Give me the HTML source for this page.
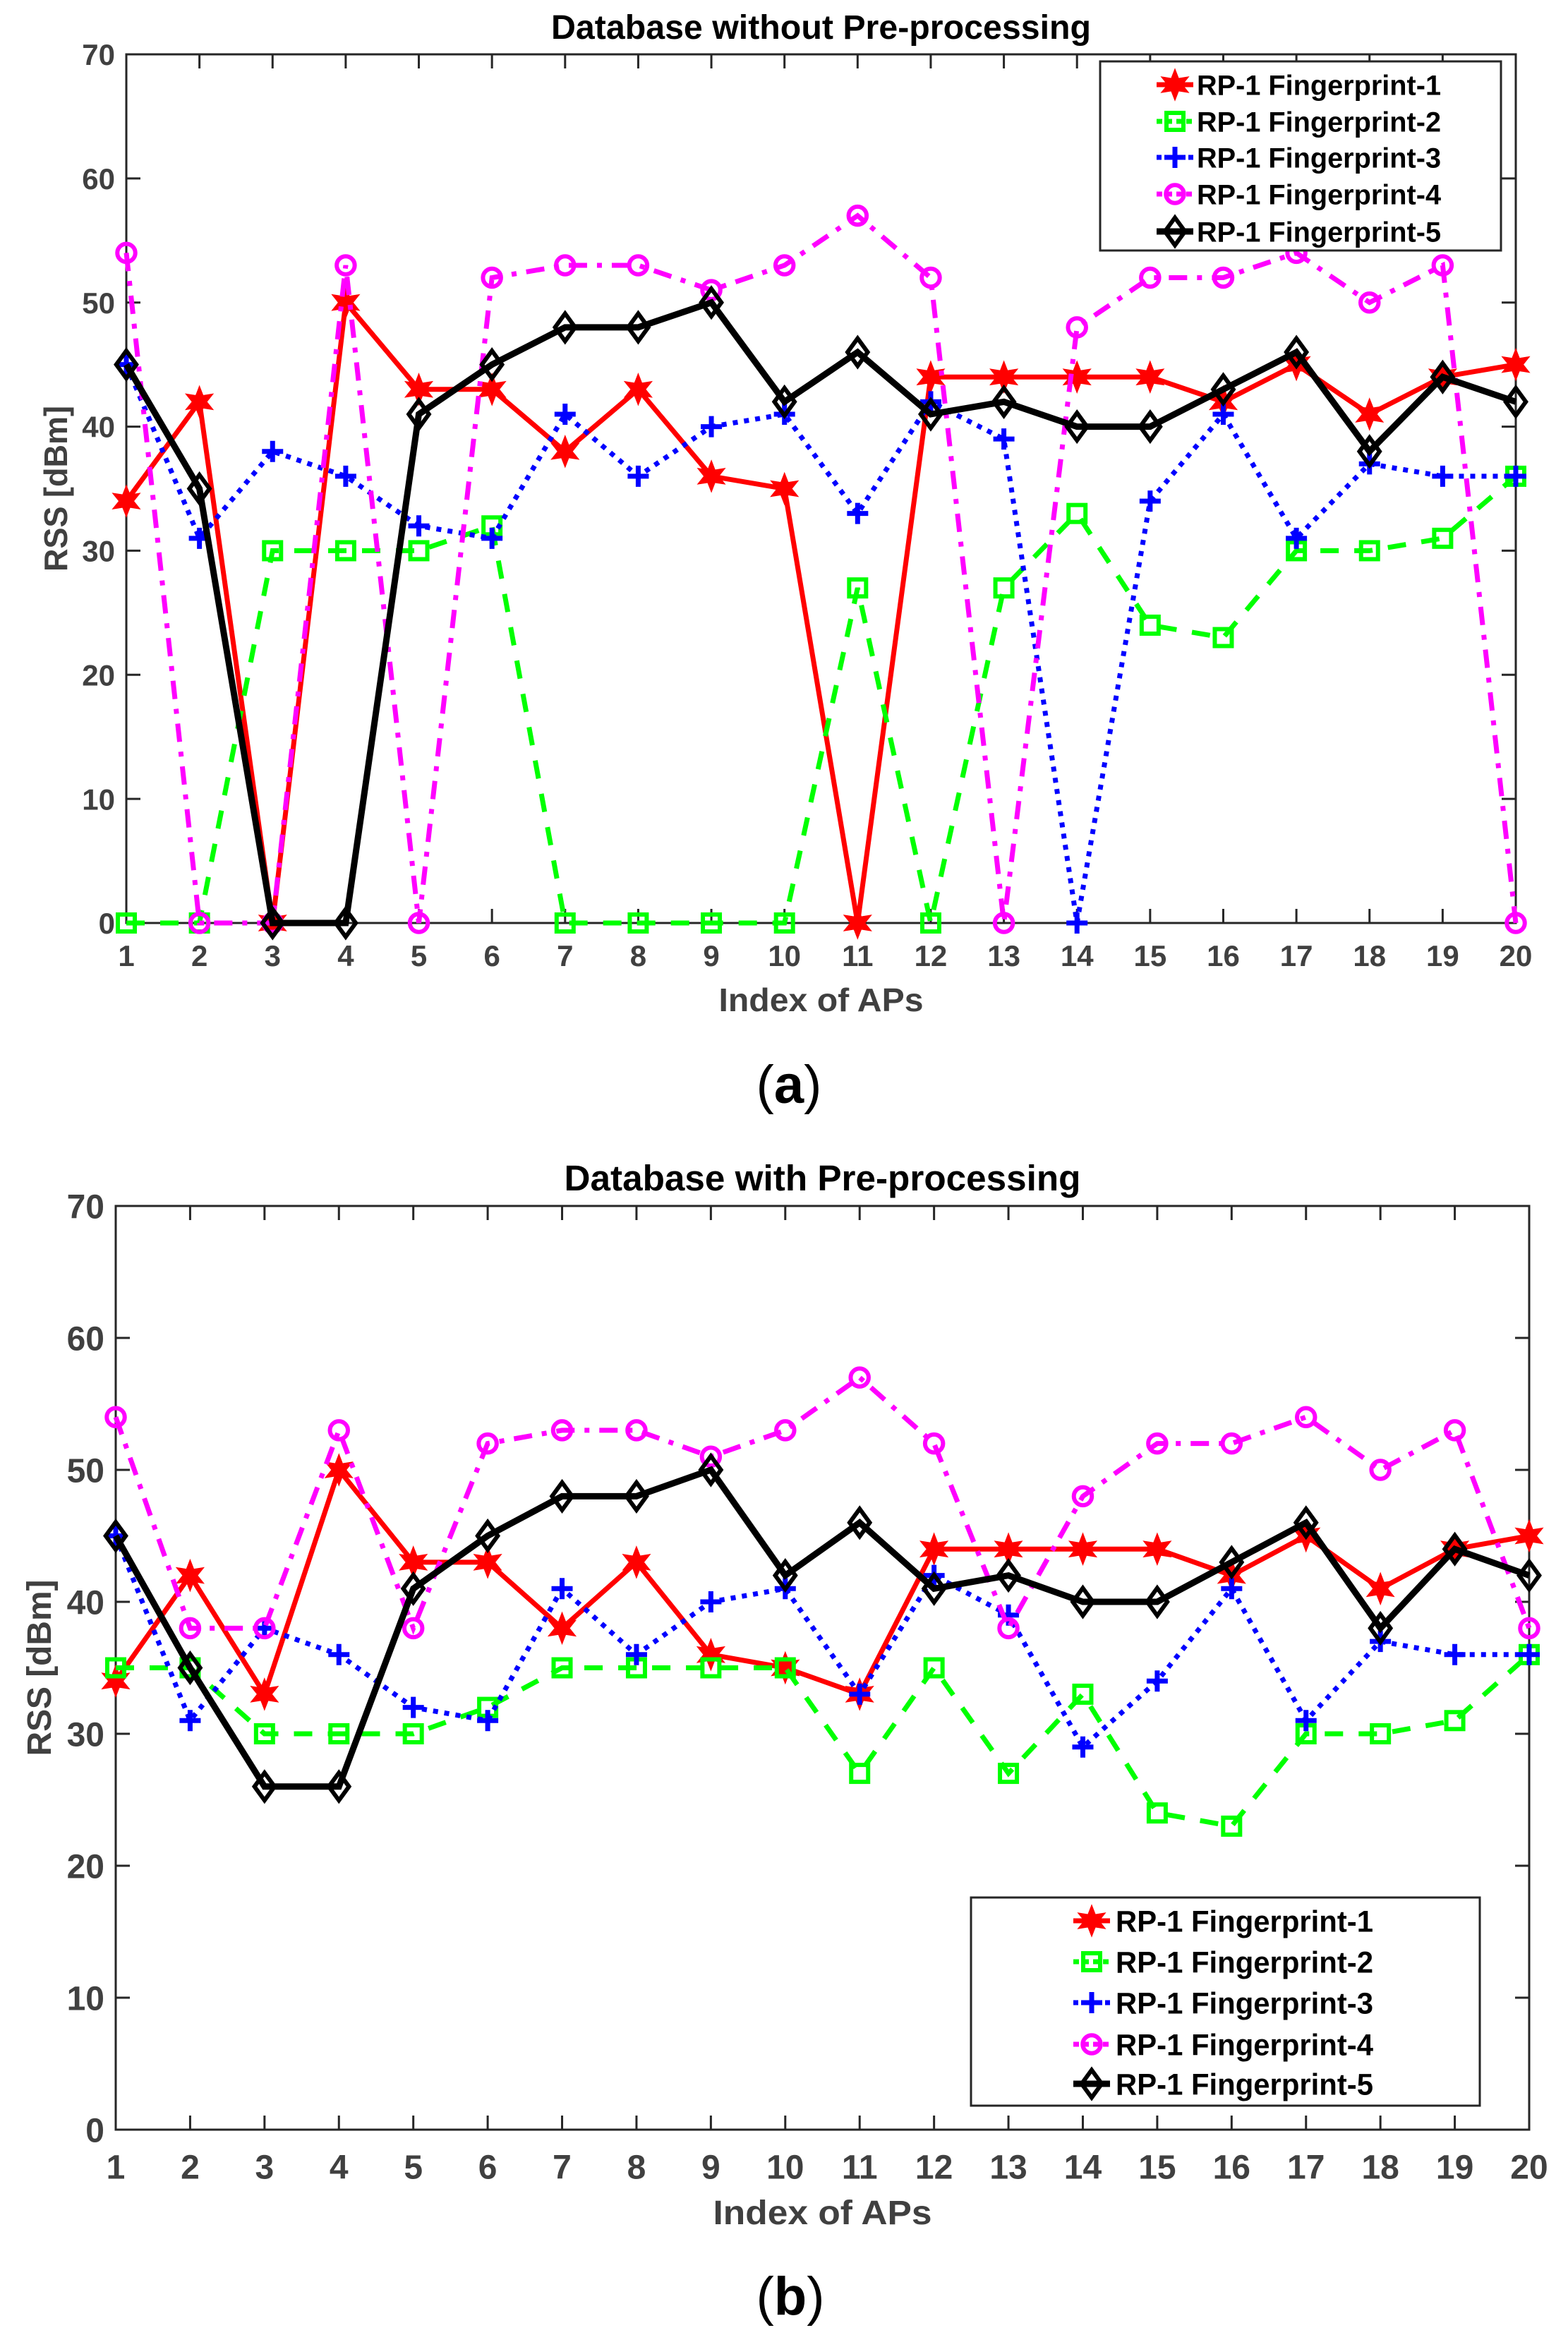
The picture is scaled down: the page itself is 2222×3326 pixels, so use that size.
<!DOCTYPE html>
<html><head><meta charset="utf-8"><style>
html,body{margin:0;padding:0;background:#fff}
svg{display:block}
text{font-family:"Liberation Sans",Arial,sans-serif}
</style></head><body>
<svg id="fig" width="2222" height="3326" viewBox="0 0 2222 3326" xmlns="http://www.w3.org/2000/svg"></svg>
<script>
const categories = [1,2,3,4,5,6,7,8,9,10,11,12,13,14,15,16,17,18,19,20];
const yTicks = [0,10,20,30,40,50,60,70];
const seriesNames = ["RP-1 Fingerprint-1","RP-1 Fingerprint-2","RP-1 Fingerprint-3","RP-1 Fingerprint-4","RP-1 Fingerprint-5"];
const a_fp1 = [34,42,0,50,43,43,38,43,36,35,0,44,44,44,44,42,45,41,44,45];
const a_fp2 = [0,0,30,30,30,32,0,0,0,0,27,0,27,33,24,23,30,30,31,36];
const a_fp3 = [45,31,38,36,32,31,41,36,40,41,33,42,39,0,34,41,31,37,36,36];
const a_fp4 = [54,0,0,53,0,52,53,53,51,53,57,52,0,48,52,52,54,50,53,0];
const a_fp5 = [45,35,0,0,41,45,48,48,50,42,46,41,42,40,40,43,46,38,44,42];
const b_fp1 = [34,42,33,50,43,43,38,43,36,35,33,44,44,44,44,42,45,41,44,45];
const b_fp2 = [35,35,30,30,30,32,35,35,35,35,27,35,27,33,24,23,30,30,31,36];
const b_fp3 = [45,31,38,36,32,31,41,36,40,41,33,42,39,29,34,41,31,37,36,36];
const b_fp4 = [54,38,38,53,38,52,53,53,51,53,57,52,38,48,52,52,54,50,53,38];
const b_fp5 = [45,35,26,26,41,45,48,48,50,42,46,41,42,40,40,43,46,38,44,42];

const NS="http://www.w3.org/2000/svg";
const svg=document.getElementById('fig');
function mk(tag,attrs,parent){const e=document.createElementNS(NS,tag);for(const k in attrs)e.setAttribute(k,attrs[k]);(parent||svg).appendChild(e);return e;}
const styles=[
 {color:"#ff0000",w:7,dash:"",marker:"star"},
 {color:"#00ff00",w:7,dash:"26 22",marker:"square"},
 {color:"#0000ff",w:7,dash:"7 9",marker:"plus"},
 {color:"#ff00ff",w:7,dash:"26 14 7 14",marker:"circle"},
 {color:"#000000",w:9,dash:"",marker:"diamond"}
];
function marker(g,type,cx,cy,color,s){
 let m;
 if(type==="star"){
  let pts=[];for(let i=0;i<12;i++){const r=i%2===0?s*1.4:s*0.65;const an=-Math.PI/2+i*Math.PI/6;pts.push((cx+r*Math.cos(an)).toFixed(1)+","+(cy+r*Math.sin(an)).toFixed(1));}
  m=mk('polygon',{points:pts.join(' '),fill:color,stroke:color,'stroke-width':2},g);
 }else if(type==="square"){
  m=mk('rect',{x:cx-s*0.8,y:cy-s*0.8,width:s*1.6,height:s*1.6,fill:'none',stroke:color,'stroke-width':6},g);
 }else if(type==="plus"){
  m=mk('path',{d:`M${cx-s} ${cy}H${cx+s}M${cx} ${cy-s}V${cy+s}`,stroke:color,'stroke-width':7,fill:'none'},g);
 }else if(type==="circle"){
  m=mk('circle',{cx:cx,cy:cy,r:s*0.85,fill:'none',stroke:color,'stroke-width':6},g);
 }else{
  m=mk('polygon',{points:`${cx},${cy-s*1.3} ${cx+s*0.95},${cy} ${cx},${cy+s*1.3} ${cx-s*0.95},${cy}`,fill:'none',stroke:color,'stroke-width':6},g);
 }
 return m;
}
function chart(cfg){
 const g=mk('g',{});
 
 
 const {L,R,T,B,fs}=cfg;
 const xs=i=>L+(i-1)*(R-L)/19;
 const ys=v=>B-v*(B-T)/70;
 const frame=mk('rect',{x:L,y:T,width:R-L,height:B-T,fill:'none',stroke:'#262626','stroke-width':3},g);
 
 
 categories.forEach(c=>{
  const x=xs(c);
  mk('line',{x1:x,y1:B,x2:x,y2:B-20,stroke:'#262626','stroke-width':3},g);
  mk('line',{x1:x,y1:T,x2:x,y2:T+20,stroke:'#262626','stroke-width':3},g);
  const t=mk('text',{x:x,y:B+fs*1.45,'text-anchor':'middle','font-size':fs,'font-weight':'bold',fill:'#404040'},g);
  t.textContent=c;
  
  
 });
 yTicks.forEach(v=>{
  const y=ys(v);
  mk('line',{x1:L,y1:y,x2:L+20,y2:y,stroke:'#262626','stroke-width':3},g);
  mk('line',{x1:R,y1:y,x2:R-20,y2:y,stroke:'#262626','stroke-width':3},g);
  const t=mk('text',{x:L-16,y:y+fs*0.36,'text-anchor':'end','font-size':fs,'font-weight':'bold',fill:'#404040'},g);
  t.textContent=v;
  
  
 });
 cfg.data.forEach((arr,si)=>{
  const st=styles[si];
  const d=arr.map((v,i)=>(i?'L':'M')+xs(categories[i]).toFixed(1)+' '+ys(v).toFixed(1)).join('');
  const p=mk('path',{d:d,fill:'none',stroke:st.color,'stroke-width':st.w,'stroke-dasharray':st.dash,'stroke-linejoin':'miter'},g);
  
  
  arr.forEach((v,i)=>{
   const m=marker(g,st.marker,xs(categories[i]),ys(v),st.color,15);
   
   
  });
 });
 const tt=mk('text',{x:(L+R)/2,y:cfg.titleY,'text-anchor':'middle','font-size':cfg.tfs,'font-weight':'bold',fill:'#000',textLength:cfg.tlen,lengthAdjust:'spacingAndGlyphs'},g);
 tt.textContent=cfg.title;
 
 
 const xl=mk('text',{x:(L+R)/2,y:cfg.xlY,'text-anchor':'middle','font-size':cfg.lfs,'font-weight':'bold',fill:'#404040',textLength:cfg.xlLen,lengthAdjust:'spacingAndGlyphs'},g);
 xl.textContent='Index of APs';
 
 
 const yl=mk('text',{x:0,y:0,transform:`translate(${cfg.ylX},${(T+B)/2}) rotate(-90)`,'text-anchor':'middle','font-size':cfg.lfs,'font-weight':'bold',fill:'#404040',textLength:cfg.ylLen,lengthAdjust:'spacingAndGlyphs'},g);
 yl.textContent='RSS [dBm]';
 
 
 const lg=mk('g',{},g);
 
 
 const lb=cfg.leg;
 mk('rect',{x:lb.x,y:lb.y,width:lb.w,height:lb.h,fill:'#fff',stroke:'#262626','stroke-width':3},lg);
 seriesNames.forEach((n,i)=>{
  const e=mk('g',{},lg);
  
  
  const cy=lb.rows[i];const st=styles[i];
  mk('line',{x1:lb.mx-26,y1:cy,x2:lb.mx+26,y2:cy,stroke:st.color,'stroke-width':st.w,'stroke-dasharray':st.dash==="7 9"?"7 8":(st.dash?"8 6":"")},e);
  marker(e,st.marker,lb.mx,cy,st.color,15);
  const t=mk('text',{x:lb.tx,y:cy+lb.fs*0.36,'font-size':lb.fs,'font-weight':'bold',fill:'#000',textLength:lb.tl,lengthAdjust:'spacingAndGlyphs'},e);
  t.textContent=n;
 });
}
chart({name:'chart-a',L:179,R:2148,T:77,B:1308,fs:42,data:[a_fp1,a_fp2,a_fp3,a_fp4,a_fp5],
 title:'Database without Pre-processing',titleY:55,tfs:48,tlen:765,xlY:1433,lfs:46,xlLen:290,ylX:95,ylLen:235,
 leg:{x:1559,y:87,w:568,h:268,rows:[120,172,223,275,328],mx:1665,tx:1696,fs:40,tl:346}});
chart({name:'chart-b',L:164,R:2167,T:1709,B:3018,fs:48,data:[b_fp1,b_fp2,b_fp3,b_fp4,b_fp5],
 title:'Database with Pre-processing',titleY:1687,tfs:51,tlen:732,xlY:3152,lfs:48,xlLen:310,ylX:72,ylLen:250,
 leg:{x:1376,y:2689,w:721,h:295,rows:[2722,2780,2838,2897,2953],mx:1547,tx:1581,fs:43,tl:365}});
const ca=mk('text',{x:1118,y:1563,'text-anchor':'middle','font-size':76,'font-family':'Liberation Serif, serif',fill:'#000'});
ca.innerHTML='(<tspan font-weight="bold">a</tspan>)';


const cb=mk('text',{x:1120,y:3280,'text-anchor':'middle','font-size':76,'font-family':'Liberation Serif, serif',fill:'#000'});
cb.innerHTML='(<tspan font-weight="bold">b</tspan>)';


</script>
</body></html>
